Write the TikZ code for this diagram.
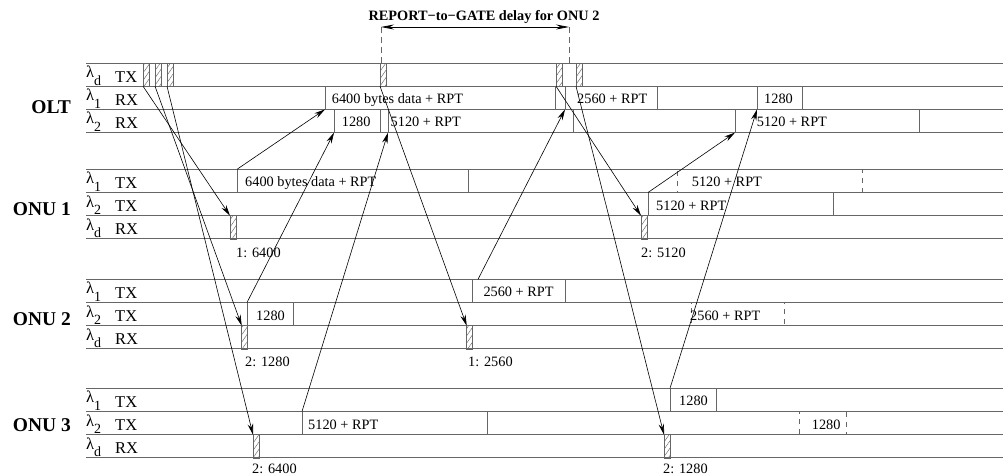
\documentclass[tikz,border=0pt]{standalone}
\usepackage{fontspec}
\setmainfont{Liberation Serif}
\usetikzlibrary{arrows.meta,patterns.meta}
\definecolor{slotgray}{HTML}{666666}
\newcommand\wl[1]{λ\raisebox{-7.5pt}{\fontsize{14}{14}\selectfont #1}}

\begin{document}
\begin{tikzpicture}[
  x=1pt, y=-1pt,
  rowline/.style={draw=slotgray,line width=0.9pt},
  slot/.style={draw=slotgray,line width=0.9pt,inner sep=0pt,outer sep=0pt,
    minimum height=23.2pt,anchor=north west},
  dslot/.style={slot,dash pattern=on 5pt off 5pt,dash phase=-5pt},
  hatch/.style={draw=slotgray,line width=0.6pt,inner sep=0pt,outer sep=0pt,
    minimum width=6pt,minimum height=23.2pt,anchor=north west,
    pattern={Lines[angle=55,distance=4.2pt,line width=0.45pt]},pattern color=slotgray},
  txt/.style={anchor=base west,inner sep=0pt,font=\fontsize{14.3}{16}\selectfont},
  lab/.style={anchor=base west,inner sep=0pt,font=\fontsize{16.5}{18}\selectfont},
  group/.style={anchor=base east,inner sep=0pt,font=\fontsize{19.5}{22}\selectfont\bfseries},
  title/.style={anchor=base,inner sep=0pt,font=\fontsize{14.3}{16}\selectfont\bfseries},
  arrow/.style={-{Stealth[length=11pt,width=5.5pt]},line width=0.6pt},
  span/.style={{Stealth[length=13pt,width=5pt]}-{Stealth[length=13pt,width=5pt]},line width=0.7pt},
  guide/.style={draw=slotgray,line width=0.7pt,dash pattern=on 6pt off 4pt}
]
\useasboundingbox (0,0) rectangle (1003,475);

\foreach \t in {63,169.3,279.3,388.3}
  \foreach \k in {0,...,3}
    \draw[rowline] (86,{\t+\k*23.2}) -- (1003,{\t+\k*23.2});

\foreach \t/\wa/\wb/\wc/\da/\db/\dc [count=\g] in
  {63/d/1/2/TX/RX/RX,169.3/1/2/d/TX/TX/RX,279.3/1/2/d/TX/TX/RX,388.3/1/2/d/TX/TX/RX}{
  \node[lab] (w\g-a) at (86,{\t+14.5}) {\wl{\wa}};
  \node[lab] (w\g-b) at (86,{\t+37.7}) {\wl{\wb}};
  \node[lab] (w\g-c) at (86,{\t+60.9}) {\wl{\wc}};
  \node[lab] (d\g-a) at (115,{\t+19}) {\da};
  \node[lab] (d\g-b) at (115,{\t+42.2}) {\db};
  \node[lab] (d\g-c) at (115,{\t+65.4}) {\dc};
}

\node[group] (olt) at (71,113.3) {OLT};
\node[group] (onu1) at (71,215) {ONU 1};
\node[group] (onu2) at (71,325) {ONU 2};
\node[group] (onu3) at (71,431.7) {ONU 3};

\foreach \n/\xa/\xb/\t/\tx/\s in {
  o6400/325/555/86.2/331.7/6400 bytes data + RPT,
  o2560/565/657/86.2/577/2560 + RPT,
  o1280b/757/802/86.2/764/1280,
  o1280/334/380/109.4/341.7/1280,
  o5120/388/573/109.4/390.5/5120 + RPT,
  o5120b/735/919/109.4/756.7/5120 + RPT,
  a6400/237/468/169.3/245/6400 bytes data + RPT,
  a5120b/648/833/192.5/656/5120 + RPT,
  b2560/472/565/279.3/483.3/2560 + RPT,
  b1280/247/293/302.5/256/1280,
  c1280/670/716/388.3/679/1280,
  c5120/302/487/411.5/308/5120 + RPT}{
  \node[slot,minimum width={\xb-\xa}] (\n) at (\xa,\t) {};
  \node[txt] (t\n) at (\tx,{\t+17.5}) {\s};
}
\node[slot,minimum width=10] (ogap) at (555,86.2) {};

\node[dslot,minimum width=185] (a5120) at (677,169.3) {};
\node[txt] (ta5120) at (691.7,186.8) {5120 + RPT};
\node[dslot,minimum width=93] (b2560b) at (691,302.5) {};
\node[txt] (tb2560b) at (690,320) {2560 + RPT};
\node[dslot,minimum width=47] (c1280b) at (799,411.5) {};
\node[txt] (tc1280b) at (811.7,429) {1280};

\node[hatch] (g1) at (143,63) {};
\node[hatch] (g2) at (155,63) {};
\node[hatch] (g3) at (167,63) {};
\node[hatch] (g4) at (380,63) {};
\node[hatch] (g5) at (556,63) {};
\node[hatch] (g6) at (576,63) {};
\node[hatch] (r1a) at (230,215.7) {};
\node[hatch] (r1b) at (641,215.7) {};
\node[hatch] (r2a) at (241.7,325.7) {};
\node[hatch] (r2b) at (466.7,325.7) {};
\node[hatch] (r3a) at (253,434.7) {};
\node[hatch] (r3b) at (664,434.7) {};

\node[txt] (n1a) at (236,257.3) {1: 6400};
\node[txt] (n1b) at (641,257.3) {2: 5120};
\node[txt] (n2a) at (245,366) {2: 1280};
\node[txt] (n2b) at (468,366) {1: 2560};
\node[txt] (n3a) at (252,473) {2: 6400};
\node[txt] (n3b) at (663,473) {2: 1280};

\draw[arrow] (g1.south west) -- (r1a.north west);
\draw[arrow] (g2.south west) -- (r2a.north west);
\draw[arrow] (g3.south west) -- (r3a.north west);
\draw[arrow] (g4.south west) -- (r2b.north west);
\draw[arrow] (g5.south west) -- (r1b.north west);
\draw[arrow] (g6.south west) -- (r3b.north west);

\draw[arrow] (a6400.north west) -- (o6400.south west);
\draw[arrow] (b1280.north west) -- (o1280.south west);
\draw[arrow] (c5120.north west) -- (o5120.south west);
\draw[arrow] ([xshift=6pt]b2560.north west) -- (o2560.south west);
\draw[arrow] (a5120b.north west) -- (o5120b.south west);
\draw[arrow] (c1280.north west) -- (o1280b.south west);

\node[title] (delay) at (484,20) {REPORT−to−GATE delay for ONU 2};
\coordinate (m1) at (381,27);
\coordinate (m2) at (569,27);
\draw[guide] (m1) -- (m1 |- g4.north);
\draw[guide] (m2) -- (m2 |- g4.north);
\draw[span] (m1) -- (m2);
\end{tikzpicture}
\end{document}
